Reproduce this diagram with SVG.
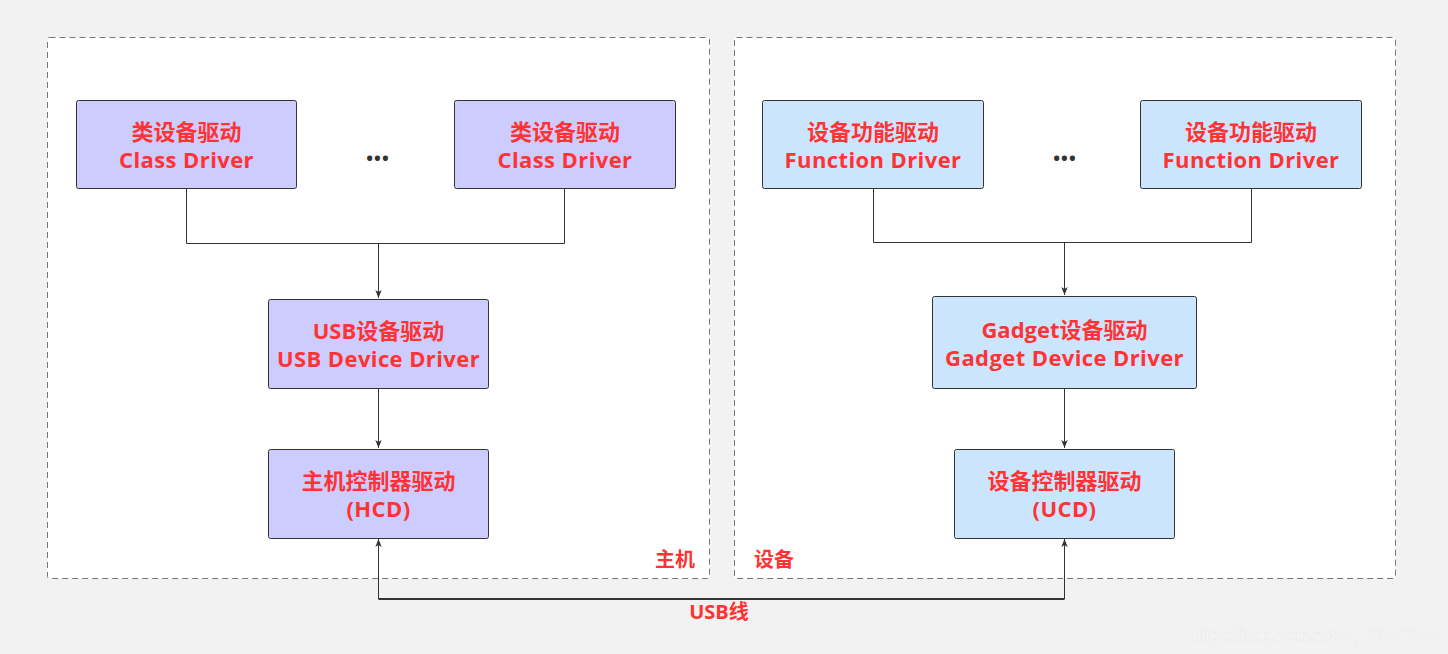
<svg xmlns="http://www.w3.org/2000/svg" width="1448" height="654" viewBox="0 0 1448 654">
<defs>
<marker id="arr" viewBox="0 0 10 10" refX="10" refY="5" markerWidth="8" markerHeight="8" markerUnits="userSpaceOnUse" orient="auto">
<path d="M0,1 L10,5 L0,9 L2.5,5 Z" fill="#333"/>
</marker>
<style>
.cont{fill:#fff;stroke:#777;stroke-width:1;stroke-dasharray:6 4}
.host{fill:#ccccff;stroke:#333;stroke-width:1}
.dev{fill:#cce5ff;stroke:#333;stroke-width:1}
.t{font-family:"Open Sans","Noto Sans CJK SC",sans-serif;font-weight:bold;font-size:22px;fill:#ff3333;text-anchor:middle}
.l{letter-spacing:0.4px}
.dots{font-family:"Noto Sans",sans-serif;font-weight:bold;font-size:18px;fill:#333;text-anchor:middle;letter-spacing:1px}
.c{fill:none;stroke:#333;stroke-width:1}
.usb{fill:none;stroke:#333;stroke-width:2}
</style>
</defs>
<rect width="1448" height="654" fill="#f2f2f2"/>
<g id="host-container">
<rect class="cont" x="47.5" y="37.5" width="662" height="541" rx="2"/>
<text class="t" x="695" y="567" style="text-anchor:end;font-size:20px">主机</text>
</g>
<g id="device-container">
<rect class="cont" x="734.5" y="37.5" width="661" height="541" rx="2"/>
<text class="t" x="754" y="567" style="text-anchor:start;font-size:20px">设备</text>
</g>
<g id="connectors">
<path class="c" d="M186.5,188 V243.5 H564.5 V188"/>
<path class="c" d="M378.5,243.5 V298" marker-end="url(#arr)"/>
<path class="c" d="M378.5,388 V448" marker-end="url(#arr)"/>
<path class="c" d="M873.5,188 V242.5 H1251.5 V188"/>
<path class="c" d="M1064.5,242.5 V295" marker-end="url(#arr)"/>
<path class="c" d="M1064.5,388 V448" marker-end="url(#arr)"/>
<path class="usb" d="M378.5,599 H1064.5"/>
<path class="c" d="M378.5,599 V539" stroke-width="2" marker-end="url(#arr)"/>
<path class="c" d="M1064.5,599 V539" stroke-width="2" marker-end="url(#arr)"/>
<text class="t" x="719" y="619" style="font-size:20px">USB线</text>
</g>
<g id="class-driver-1">
<rect class="host" x="76.5" y="100.5" width="220" height="88" rx="2"/>
<text class="t" x="186.5" y="140">类设备驱动</text>
<text class="t l" x="186.5" y="168">Class Driver</text>
</g>
<g id="host-dots"><text class="dots" x="378" y="165">•••</text></g>
<g id="class-driver-2">
<rect class="host" x="454.5" y="100.5" width="221" height="88" rx="2"/>
<text class="t" x="565" y="140">类设备驱动</text>
<text class="t l" x="565" y="168">Class Driver</text>
</g>
<g id="usb-device-driver">
<rect class="host" x="268.5" y="299.5" width="220" height="89" rx="2"/>
<text class="t" x="378.5" y="339">USB设备驱动</text>
<text class="t l" x="378.5" y="367">USB Device Driver</text>
</g>
<g id="hcd">
<rect class="host" x="268.5" y="449.5" width="220" height="89" rx="2"/>
<text class="t" x="378.5" y="489">主机控制器驱动</text>
<text class="t l" x="378.5" y="517">(HCD)</text>
</g>
<g id="function-driver-1">
<rect class="dev" x="762.5" y="100.5" width="221" height="88" rx="2"/>
<text class="t" x="873" y="140">设备功能驱动</text>
<text class="t l" x="873" y="168">Function Driver</text>
</g>
<g id="device-dots"><text class="dots" x="1065" y="165">•••</text></g>
<g id="function-driver-2">
<rect class="dev" x="1140.5" y="100.5" width="221" height="88" rx="2"/>
<text class="t" x="1251" y="140">设备功能驱动</text>
<text class="t l" x="1251" y="168">Function Driver</text>
</g>
<g id="gadget-device-driver">
<rect class="dev" x="932.5" y="296.5" width="264" height="92" rx="2"/>
<text class="t" x="1064.5" y="338">Gadget设备驱动</text>
<text class="t l" x="1064.5" y="366">Gadget Device Driver</text>
</g>
<g id="ucd">
<rect class="dev" x="954.5" y="449.5" width="220" height="89" rx="2"/>
<text class="t" x="1064.5" y="489">设备控制器驱动</text>
<text class="t l" x="1064.5" y="517">(UCD)</text>
</g>
<text x="1438" y="641" style="font-family:'Liberation Sans',sans-serif;font-size:16px;fill:#ffffff;text-anchor:end;stroke:#e4e4e4;stroke-width:0.4">https://blog.csdn.net/qq_33487044</text>
</svg>
